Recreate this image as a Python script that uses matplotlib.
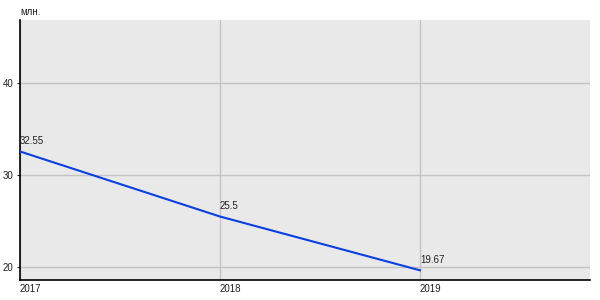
import matplotlib.pyplot as plt

years = [2017, 2018, 2019]
values = [32.55, 25.5, 19.67]
value_labels = ['32.55', '25.5', '19.67']
y_ticks = [20, 30, 40]

plt.rcParams['font.family'] = ['Liberation Sans', 'DejaVu Sans']

fig = plt.figure(figsize=(6, 3), dpi=100)
ax = fig.add_axes([20 / 600, 20 / 300, 570 / 600, 260 / 300])
ax.set_facecolor('#e9e9e9')

ax.plot(years, values, color='#0a3fe0', lw=1.5, zorder=3)
for x, y, s in zip(years, values, value_labels):
    ax.annotate(s, (x, y), xytext=(0, 4), textcoords='offset points',
                ha='left', va='bottom', fontsize=7, color='#222222')

ax.set_xlim(2017, 2019.85)
ax.set_ylim(18.62, 46.8)
ax.set_xticks(years)
ax.set_xticklabels([str(y) for y in years], ha='left')
ax.set_yticks(y_ticks)

ax.grid(True, color='#c4c4c4', lw=1)
ax.set_axisbelow(True)
for s in ['top', 'right']:
    ax.spines[s].set_visible(False)
for s in ['left', 'bottom']:
    ax.spines[s].set_color('black')
    ax.spines[s].set_linewidth(1.2)

ax.tick_params(axis='x', length=0, pad=3, labelsize=7, colors='#222222')
ax.tick_params(axis='y', length=2.5, pad=2, labelsize=7, colors='#222222')

fig.text(20 / 600, 1 - 12 / 300, 'млн.', fontsize=7, color='#222222',
         ha='left', va='center')

fig.savefig('out.png', dpi=100)
